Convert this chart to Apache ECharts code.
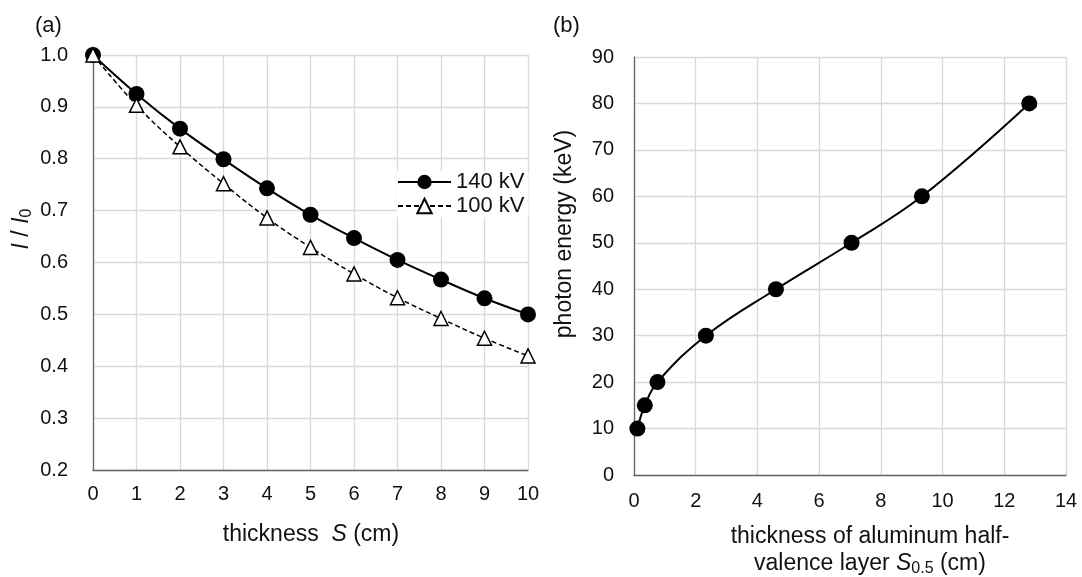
<!DOCTYPE html>
<html>
<head>
<meta charset="utf-8">
<script src="https://cdn.jsdelivr.net/npm/echarts@6/dist/echarts.min.js"></script>
<style>
  html, body { margin: 0; padding: 0; background: #fff; }
  #chart { width: 1082px; height: 577px; }
</style>
</head>
<body>
<div id="chart"></div>
<script>
// (a) transmitted fraction vs absorber thickness
const thickness = [0, 1, 2, 3, 4, 5, 6, 7, 8, 9, 10];
const ratio140kV = [1.0, 0.925, 0.858, 0.799, 0.743, 0.692, 0.647, 0.605, 0.567, 0.531, 0.5];
const ratio100kV = [1.0, 0.903, 0.823, 0.752, 0.686, 0.629, 0.578, 0.532, 0.492, 0.454, 0.42];

// (b) photon energy vs aluminum half-value layer thickness
const halfValueLayer = [0.11, 0.35, 0.76, 2.33, 4.6, 7.05, 9.33, 12.81];
const photonEnergy = [10, 15, 20, 30, 40, 50, 60, 80];

const FONT = '"Liberation Sans", Arial, sans-serif';
const TEXT = '#111111';
const AXIS = '#666666';
const GRID = '#d9d9d9';

function pairs(xs, ys) { return xs.map((x, i) => [x, ys[i]]); }

function valueAxis(extra) {
  return Object.assign({
    type: 'value',
    axisLine: { show: true, onZero: false, lineStyle: { color: AXIS, width: 1.3 } },
    axisTick: { show: false },
    splitLine: { show: true, lineStyle: { color: GRID, width: 1.3 } },
    axisLabel: { fontFamily: FONT, fontSize: 20, color: TEXT }
  }, extra);
}

const titleStyle = { fontFamily: FONT, fontSize: 23, fill: TEXT };
const richItalic = {
  i: { fontFamily: FONT, fontSize: 23, fontStyle: 'italic', color: TEXT },
  sub: { fontFamily: FONT, fontSize: 16, color: TEXT, padding: [10, 0, 0, 0] }
};

const chart = echarts.init(document.getElementById('chart'), null, { renderer: 'canvas' });

chart.setOption({
  animation: false,
  backgroundColor: '#ffffff',
  grid: [
    { left: 93, right: 554, top: 55, bottom: 107 },
    { left: 634, right: 16, top: 57, bottom: 102 }
  ],
  xAxis: [
    valueAxis({ gridIndex: 0, min: 0, max: 10, interval: 1,
      axisLabel: { fontFamily: FONT, fontSize: 20, color: TEXT, margin: 14 } }),
    valueAxis({ gridIndex: 1, min: 0, max: 14, interval: 2,
      axisLabel: { fontFamily: FONT, fontSize: 20, color: TEXT, margin: 16 } })
  ],
  yAxis: [
    valueAxis({ gridIndex: 0, min: 0.2, max: 1.0, interval: 0.1,
      axisLabel: { fontFamily: FONT, fontSize: 20, color: TEXT, margin: 25,
        formatter: v => v.toFixed(1) } }),
    valueAxis({ gridIndex: 1, min: 0, max: 90, interval: 10,
      axisLabel: { fontFamily: FONT, fontSize: 20, color: TEXT, margin: 20 } })
  ],
  legend: {
    data: ['140 kV', '100 kV'],
    orient: 'vertical',
    left: 397,
    top: 171,
    itemWidth: 53,
    itemHeight: 18,
    itemGap: 2,
    padding: [0, 4, 0, 0],
    backgroundColor: '#ffffff',
    textStyle: { fontFamily: FONT, fontSize: 22, color: TEXT, lineHeight: 22 }
  },
  series: [
    {
      name: '140 kV', type: 'line', xAxisIndex: 0, yAxisIndex: 0,
      data: pairs(thickness, ratio140kV),
      smooth: 0.4,
      symbol: 'circle', symbolSize: 16,
      lineStyle: { color: '#000', width: 2 },
      itemStyle: { color: '#000' }
    },
    {
      name: '100 kV', type: 'line', xAxisIndex: 0, yAxisIndex: 0,
      data: pairs(thickness, ratio100kV),
      smooth: 0.4,
      symbol: 'triangle', symbolSize: 14,
      lineStyle: { color: '#000', width: 1.5, type: [5, 3] },
      itemStyle: { color: '#fff', borderColor: '#000', borderWidth: 1.5 }
    },
    {
      name: 'energy', type: 'line', xAxisIndex: 1, yAxisIndex: 1,
      data: pairs(halfValueLayer, photonEnergy),
      smooth: 0.4,
      symbol: 'circle', symbolSize: 16,
      lineStyle: { color: '#000', width: 2 },
      itemStyle: { color: '#000' }
    }
  ],
  graphic: [
    { type: 'text', left: 35, top: 15, style: Object.assign({ text: '(a)' }, titleStyle, { fontSize: 22 }) },
    { type: 'text', left: 553, top: 15, style: Object.assign({ text: '(b)' }, titleStyle, { fontSize: 22 }) },
    {
      type: 'text', x: 22, y: 229, rotation: Math.PI / 2,
      style: Object.assign({}, titleStyle, {
        text: '{i|I} / {i|I}{sub|0}', rich: richItalic,
        align: 'center', verticalAlign: 'middle'
      })
    },
    {
      type: 'text', x: 311, y: 535,
      style: Object.assign({}, titleStyle, {
        text: 'thickness  {i|S} (cm)', rich: richItalic,
        align: 'center', verticalAlign: 'middle'
      })
    },
    {
      type: 'text', x: 565, y: 234, rotation: Math.PI / 2,
      style: Object.assign({}, titleStyle, {
        text: 'photon energy (keV)',
        align: 'center', verticalAlign: 'middle'
      })
    },
    {
      type: 'text', x: 870, y: 537,
      style: Object.assign({}, titleStyle, {
        text: 'thickness of aluminum half-',
        align: 'center', verticalAlign: 'middle'
      })
    },
    {
      type: 'text', x: 870, y: 564,
      style: Object.assign({}, titleStyle, {
        text: 'valence layer {i|S}{sub|0.5} (cm)', rich: richItalic,
        align: 'center', verticalAlign: 'middle'
      })
    }
  ]
});
</script>
</body>
</html>
